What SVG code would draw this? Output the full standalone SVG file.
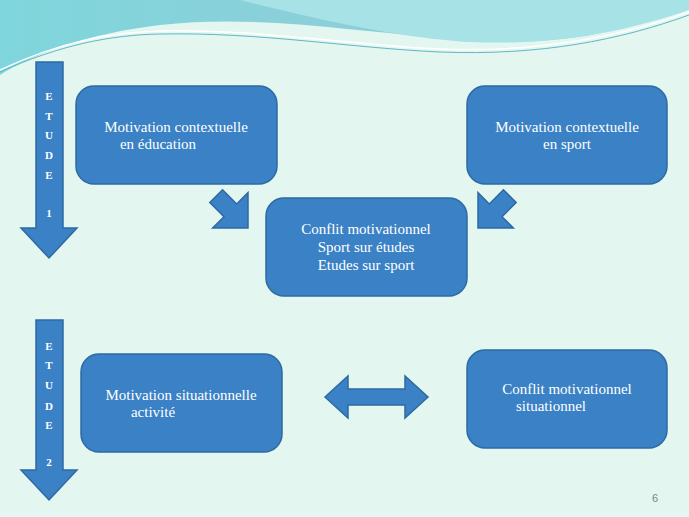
<svg xmlns="http://www.w3.org/2000/svg" width="689" height="517" viewBox="0 0 689 517">
<defs>
<style>
.b{fill:#3a81c5;stroke:#2e6aa3;stroke-width:1.5}
.t{fill:#fff;font-family:"Liberation Serif",serif;font-size:15px;text-anchor:middle}
.l{fill:#fff;font-family:"Liberation Serif",serif;font-size:11px;text-anchor:middle;font-weight:bold}
</style>
<linearGradient id="w1" x1="0" y1="0" x2="1" y2="0"><stop offset="0" stop-color="#7fd6dc"/><stop offset="0.5" stop-color="#8ccfd9"/><stop offset="1" stop-color="#74d3e6"/></linearGradient>
</defs>
<rect width="689" height="517" fill="#e3f6f0"/>
<path d="M0,0H689V0C640,30 560,48 460,40C330,28 250,15 160,25C90,33 30,55 0,75Z" fill="url(#w1)"/>
<path d="M240,0C320,20 400,38 470,42C560,46 630,30 689,10V0Z" fill="#a6e2e6"/>
<path d="M0,72C60,45 110,35 160,34C260,32 350,48 440,52C540,56 620,40 689,15" fill="none" stroke="#5fb7c8" stroke-width="1"/>
<path d="M0,70C60,42 110,32 160,31C260,29 350,45 440,49C540,53 620,37 689,12" fill="none" stroke="#ffffff" stroke-width="1.5"/>
<g id="connectors">
<polygon class="b" points="36,62 63,62 63,228 77,228 49,258 21,228 36,228"/>
<polygon class="b" points="36,320 63,320 63,470 77,470 49,500 21,470 36,470"/>
<polygon class="b" transform="translate(248,228) rotate(45)" points="0,0 -25,-25 -25,-9 -45,-9 -45,9 -25,9 -25,25"/>
<polygon class="b" transform="translate(478,228) rotate(135)" points="0,0 -25,-25 -25,-9 -45,-9 -45,9 -25,9 -25,25"/>
<polygon class="b" points="325,397 348,376 348,389 405,389 405,376 428,397 405,418 405,405 348,405 348,418"/>
</g>
<g class="l"><text x="49" y="100">E</text><text x="49" y="120">T</text><text x="49" y="139">U</text><text x="49" y="159">D</text><text x="49" y="179">E</text><text x="49" y="217">1</text>
<text x="49" y="350">E</text><text x="49" y="369">T</text><text x="49" y="389">U</text><text x="49" y="410">D</text><text x="49" y="429">E</text><text x="49" y="466">2</text></g>
<g id="n1"><rect class="b" x="76" y="86" width="201" height="98" rx="18"/><text class="t" x="176" y="132">Motivation contextuelle</text><text class="t" x="158" y="149">en éducation</text></g>
<g id="n2"><rect class="b" x="467" y="86" width="200" height="98" rx="18"/><text class="t" x="567" y="132">Motivation contextuelle</text><text class="t" x="567" y="149">en sport</text></g>
<g id="n3"><rect class="b" x="266" y="198" width="201" height="98" rx="18"/><text class="t" x="366" y="234">Conflit motivationnel</text><text class="t" x="366" y="252">Sport sur études</text><text class="t" x="366" y="270">Etudes sur sport</text></g>
<g id="n4"><rect class="b" x="81" y="354" width="201" height="98" rx="18"/><text class="t" x="181" y="400">Motivation situationnelle</text><text class="t" x="153" y="417">activité</text></g>
<g id="n5"><rect class="b" x="467" y="350" width="200" height="98" rx="18"/><text class="t" x="567" y="394">Conflit motivationnel</text><text class="t" x="551" y="411">situationnel</text></g>
<text x="652" y="502" style="font-family:'Liberation Sans',sans-serif;font-size:11px;fill:#6a8a9a">6</text>
</svg>
